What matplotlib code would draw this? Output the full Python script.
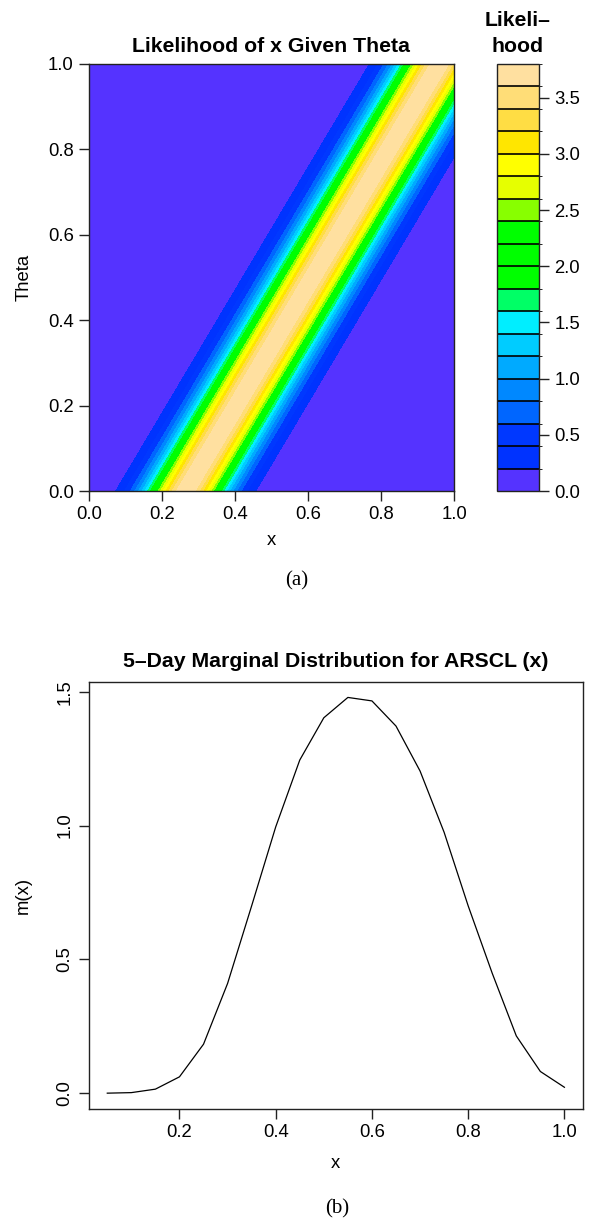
import numpy as np
import matplotlib
matplotlib.use("Agg")
import matplotlib.pyplot as plt
from matplotlib.colors import ListedColormap, BoundaryNorm
import matplotlib as mpl

# ---- likelihood model: peak height, centre line x = a + b*theta, spread ----
lik_peak = 3.79
lik_intercept = 0.265
lik_slope = 0.695
lik_sigma = 0.079
lik_levels = [0.0, 0.2, 0.4, 0.6, 0.8, 1.0, 1.2, 1.4, 1.6, 1.8, 2.0,
              2.2, 2.4, 2.6, 2.8, 3.0, 3.2, 3.4, 3.6, 3.8]
cbar_ticks = [0.0, 0.5, 1.0, 1.5, 2.0, 2.5, 3.0, 3.5]
grid_ticks = [0.0, 0.2, 0.4, 0.6, 0.8, 1.0]

# ---- marginal distribution m(x) ----
mx_x = [0.05, 0.10, 0.15, 0.20, 0.25, 0.30, 0.35, 0.40, 0.45, 0.50,
        0.55, 0.60, 0.65, 0.70, 0.75, 0.80, 0.85, 0.90, 0.95, 1.00]
mx_y = [0.000, 0.002, 0.015, 0.061, 0.183, 0.410, 0.700, 0.995, 1.245, 1.403,
        1.479, 1.466, 1.372, 1.204, 0.975, 0.700, 0.448, 0.214, 0.081, 0.022]
mx_xticks = [0.2, 0.4, 0.6, 0.8, 1.0]
mx_yticks = [0.0, 0.5, 1.0, 1.5]

band_colors = ["#5533FF", "#0033FF", "#0038FF", "#0066FF", "#0088FF",
               "#00AAFF", "#00CCFF", "#00EEFF", "#00FF66", "#00FF00",
               "#00FF00", "#00FF00", "#88FF00", "#E6FF00", "#FFFF00",
               "#FFE600", "#FFDD44", "#FFDD77", "#FFE0A0"]

plt.rcParams["font.family"] = ["Liberation Sans", "DejaVu Sans"]

W, H = 595, 1228
fig = plt.figure(figsize=(W / 100, H / 100), dpi=100)


def px_axes(left, top, right, bottom):
    return fig.add_axes([left / W, 1 - bottom / H, (right - left) / W, (bottom - top) / H])


frame_col = "#222222"
tick_fs = 13.3
title_fs = 15.3
serif = ["Liberation Serif", "DejaVu Serif"]

# ---------------- panel (a): filled contour ----------------
ax1 = px_axes(89, 64, 454, 491)
xg = np.linspace(0, 1, 201)
tg = np.linspace(0, 1, 201)
X, T = np.meshgrid(xg, tg)
Z = lik_peak * np.exp(-0.5 * ((X - (lik_intercept + lik_slope * T)) / lik_sigma) ** 2)

cmap = ListedColormap(band_colors)
norm = BoundaryNorm(lik_levels, cmap.N)
ax1.contourf(X, T, Z, levels=lik_levels, cmap=cmap, norm=norm, antialiased=False)
ax1.set_xlim(0, 1)
ax1.set_ylim(0, 1)
ax1.set_xticks(grid_ticks)
ax1.set_yticks(grid_ticks)
ax1.set_xticklabels([f"{v:.1f}" for v in grid_ticks])
ax1.set_yticklabels([f"{v:.1f}" for v in grid_ticks])
ax1.tick_params(direction="out", length=7, width=1, labelsize=tick_fs,
                color=frame_col, pad=4)
for s in ax1.spines.values():
    s.set_color(frame_col)
    s.set_linewidth(1)
ax1.set_title("Likelihood of x Given Theta", fontsize=title_fs,
              fontweight="bold", pad=8.5)
ax1.set_xlabel("x", fontsize=tick_fs, labelpad=6)
ax1.set_ylabel("Theta", fontsize=tick_fs, labelpad=11)

# colour key
cax = px_axes(497, 64, 539, 491)
cb = mpl.colorbar.ColorbarBase(cax, cmap=cmap, norm=norm, boundaries=lik_levels,
                               ticks=cbar_ticks, drawedges=True,
                               orientation="vertical")
cb.dividers.set_color("black")
cb.dividers.set_linewidth(1.2)
cb.outline.set_edgecolor(frame_col)
cb.outline.set_linewidth(1)
cb.set_ticklabels([f"{v:.1f}" for v in cbar_ticks])
cax.tick_params(direction="out", length=7, width=1, labelsize=tick_fs,
                color=frame_col, pad=4)
fig.text(518 / W, 1 - 26 / H, "Likeli\u2013", ha="center", va="baseline",
         fontsize=title_fs, fontweight="bold")
fig.text(518 / W, 1 - 52 / H, "hood", ha="center", va="baseline",
         fontsize=title_fs, fontweight="bold")

fig.text(297 / W, 1 - 581 / H, "(a)", ha="center", va="center",
         fontsize=15, family=serif)

# ---------------- panel (b): marginal distribution ----------------
ax2 = px_axes(89, 681.7, 582.7, 1109)
ax2.plot(mx_x, mx_y, color="black", lw=0.9)
ax2.set_xlim(0.012, 1.038)
ax2.set_ylim(-0.0592, 1.5378)
ax2.set_xticks(mx_xticks)
ax2.set_yticks(mx_yticks)
ax2.set_xticklabels([f"{v:.1f}" for v in mx_xticks])
ax2.set_yticklabels([f"{v:.1f}" for v in mx_yticks], rotation=90, va="center")
ax2.tick_params(direction="out", length=7, width=1, labelsize=tick_fs,
                color=frame_col, pad=4)
for s in ax2.spines.values():
    s.set_color(frame_col)
    s.set_linewidth(1)
ax2.set_title("5\u2013Day Marginal Distribution for ARSCL (x)", fontsize=title_fs,
              fontweight="bold", pad=10.8)
ax2.set_xlabel("x", fontsize=tick_fs, labelpad=10)
ax2.set_ylabel("m(x)", fontsize=tick_fs, labelpad=18)

fig.text(337 / W, 1 - 1209 / H, "(b)", ha="center", va="center",
         fontsize=15, family=serif)

fig.savefig("out.png", dpi=100)
